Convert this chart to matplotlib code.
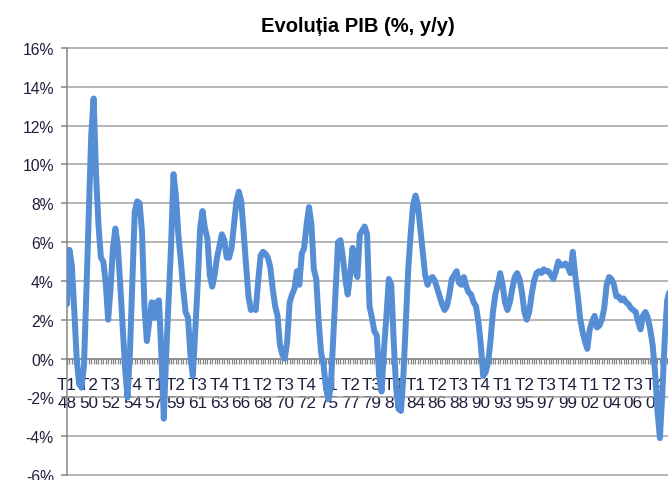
import matplotlib
matplotlib.use("Agg")
import matplotlib.pyplot as plt
from matplotlib.ticker import FixedLocator, MultipleLocator

plt.rcParams['font.family'] = ['Liberation Sans', 'DejaVu Sans']

# Quarterly real GDP growth, % y/y, from T1 1948
gdp_yoy = [
    2.8, 5.6, 4.8, 2.5, 0.0, -1.3, -1.5, -0.4, 3.4, 7.5,
    11.5, 13.4, 9.5, 6.9, 5.2, 5.0, 3.9, 2.0, 3.6, 5.7,
    6.7, 5.8, 3.8, 1.6, -0.5, -2.0, 0.3, 3.9, 7.6, 8.1,
    8.0, 6.5, 2.7, 0.9, 1.9, 2.9, 2.1, 2.9, 3.0, 0.2,
    -3.1, 0.3, 3.1, 5.8, 9.5, 8.4, 6.4, 5.1, 3.6, 2.4,
    2.1, 0.2, -0.9, 1.5, 3.8, 6.7, 7.6, 6.7, 6.2, 4.3,
    3.7, 4.3, 5.2, 5.8, 6.4, 6.1, 5.2, 5.2, 5.7, 6.9,
    8.1, 8.6, 8.1, 6.5, 4.8, 3.2, 2.5, 2.6, 2.5, 4.0,
    5.3, 5.5, 5.4, 5.2, 4.7, 3.6, 2.7, 2.2, 0.7, 0.2,
    0.0, 0.9, 2.9, 3.3, 3.6, 4.5, 3.8, 5.4, 5.7, 6.9,
    7.8, 6.9, 4.6, 4.1, 1.9, 0.3, -0.3, -1.5, -2.1, -1.5,
    1.0, 3.6, 6.0, 6.1, 5.2, 4.1, 3.3, 4.3, 5.7, 4.6,
    4.2, 6.4, 6.6, 6.8, 6.4, 2.7, 2.1, 1.4, 1.2, -0.9,
    -1.7, 0.5, 2.2, 4.1, 3.8, 0.9, -1.5, -2.6, -2.7, -0.9,
    1.9, 4.6, 6.4, 7.9, 8.4, 7.9, 6.7, 5.5, 4.3, 3.8,
    4.1, 4.2, 4.0, 3.6, 3.2, 2.8, 2.5, 2.7, 3.3, 4.1,
    4.3, 4.5, 3.9, 3.8, 4.2, 3.7, 3.4, 3.3, 2.9, 2.7,
    1.9, 0.7, -0.9, -0.7, -0.2, 0.9, 2.4, 3.3, 3.8, 4.4,
    3.8, 2.9, 2.5, 2.9, 3.6, 4.2, 4.4, 4.1, 3.4, 2.4,
    2.0, 2.4, 3.3, 4.0, 4.4, 4.5, 4.4, 4.6, 4.5, 4.5,
    4.3, 4.1, 4.5, 5.0, 4.8, 4.8, 4.9, 4.7, 4.4, 5.5,
    4.3, 3.3, 2.1, 1.4, 0.9, 0.5, 1.5, 1.9, 2.2, 1.6,
    1.7, 2.0, 2.6, 3.8, 4.2, 4.1, 3.8, 3.2, 3.2, 3.0,
    3.1, 2.9, 2.8, 2.6, 2.5, 2.4, 1.9, 1.5, 2.2, 2.4,
    2.1, 1.5, 0.7, -0.7, -2.7, -4.1, -1.8, 1.0, 3.0, 3.5,
]

tick_quarters = ["T1", "T2", "T3", "T4"] * 7
tick_years = ["48", "50", "52", "54", "57", "59", "61", "63", "66", "68",
              "70", "72", "75", "77", "79", "81", "84", "86", "88", "90",
              "93", "95", "97", "99", "02", "04", "06", "08"]
label_every = 9  # quarters between category labels

y_ticks = [-6, -4, -2, 0, 2, 4, 6, 8, 10, 12, 14, 16]
y_tick_labels = ["-6%", "-4%", "-2%", "0%", "2%", "4%", "6%", "8%",
                 "10%", "12%", "14%", "16%"]

title = "Evoluția PIB (%, y/y)"

W, H = 668, 481
fig = plt.figure(figsize=(W / 100, H / 100), dpi=100)
ax_left, ax_right = 67, 668
ax_top, ax_bottom = 49.0, 476.0
ax = fig.add_axes([ax_left / W, (H - ax_bottom) / H,
                   (ax_right - ax_left) / W, (ax_bottom - ax_top) / H])

xs = list(range(len(gdp_yoy)))
ax.plot(xs, gdp_yoy, color='#558ED5', lw=4.3, solid_joinstyle='round',
        solid_capstyle='round', zorder=3)

ax.set_xlim(0, (ax_right - ax_left) / 2.42)
ax.set_ylim(y_ticks[0], y_ticks[-1])
ax.set_axisbelow(True)

grid_col = '#A0A0A0'
ax.yaxis.set_major_locator(FixedLocator(y_ticks))
ax.set_yticklabels(y_tick_labels)
ax.yaxis.grid(True, color=grid_col, lw=1.1)
for gl in ax.get_ygridlines():
    gl.set_clip_on(False)

tick_pos = [i * label_every for i in range(len(tick_years))]
ax.xaxis.set_major_locator(FixedLocator(tick_pos))
ax.set_xticklabels([f"{q}\n{y}" for q, y in zip(tick_quarters, tick_years)],
                   linespacing=1.32)
ax.xaxis.set_minor_locator(MultipleLocator(1))

for s in ['top', 'right']:
    ax.spines[s].set_visible(False)
ax.spines['left'].set_color('#868686')
ax.spines['left'].set_linewidth(1.1)
ax.spines['bottom'].set_position(('data', 0))
ax.spines['bottom'].set_color('#868686')
ax.spines['bottom'].set_linewidth(1.1)

lab_col = '#1E1E3C'
ax.tick_params(axis='x', which='both', direction='out', length=3.5,
               width=0.9, color='#868686')
ax.tick_params(axis='x', which='major', pad=10, labelsize=12.3, labelcolor=lab_col)
ax.tick_params(axis='y', direction='out', length=4.5, width=1.1,
               color='#868686', pad=5, labelsize=11.3, labelcolor=lab_col)

fig.text(358 / W, 1 - 27 / H, title, ha='center', va='center',
         fontsize=14.5, fontweight='bold', color='black')

fig.savefig('out.png', dpi=100)
